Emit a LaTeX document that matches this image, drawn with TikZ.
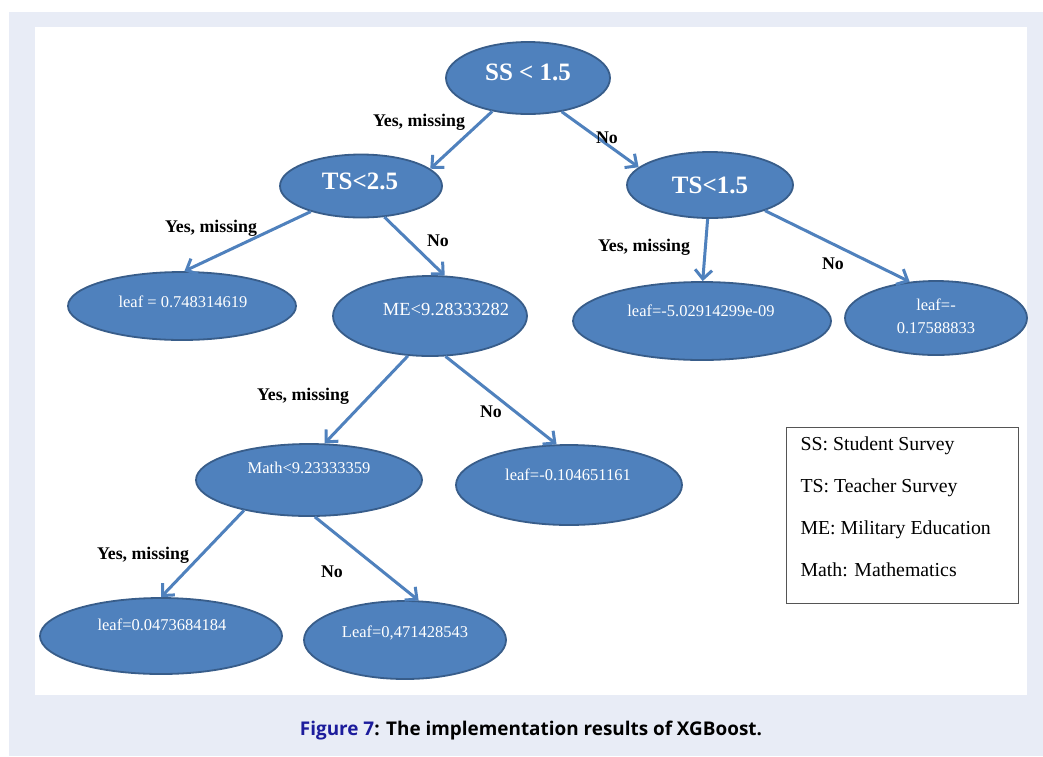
\documentclass[tikz,border=0pt]{standalone}
\usepackage{fontspec}
\setmainfont{Liberation Serif}
\newfontfamily\capfont{Open Sans}
\usetikzlibrary{shapes.geometric}
\usetikzlibrary{arrows.meta}
\definecolor{panelbg}{HTML}{E8ECF6}
\definecolor{nodefill}{HTML}{4F81BD}
\definecolor{nodeedge}{HTML}{385D8A}
\definecolor{figblue}{HTML}{1C1C9C}
\definecolor{legedge}{HTML}{555555}

\begin{document}
\begin{tikzpicture}[x=1pt, y=-1pt, >={Straight Barb[length=9pt,width=17pt]},
    splitnode/.style={ellipse, draw=nodeedge, fill=nodefill, line width=1.8pt, inner sep=0pt},
    splittxt/.style={text=white, anchor=base, font=\fontsize{25}{27}\selectfont\bfseries},
    leaftxt/.style={text=white, anchor=base, font=\fontsize{16.5}{23}\selectfont, align=center},
    branch/.style={->, draw=nodefill, line width=3pt},
    lbl/.style={font=\fontsize{17.8}{20}\selectfont\bfseries},
    legtxt/.style={anchor=base west, font=\rmfamily\fontsize{19.8}{22}\selectfont}]

    % page and panel
    \useasboundingbox (0,0) rectangle (1043,756);
    \fill[panelbg] (9,12) rectangle (1043,756);
    \fill[white] (35,27) rectangle (1027,695);

    % split nodes
    \node[splitnode, minimum width=164, minimum height=72] (ss) at (528,78) {};
    \node[splittxt] (ss-t) at (528,80) {SS < 1.5};
    \node[splitnode, minimum width=162, minimum height=63] (ts1) at (361,186) {};
    \node[splittxt] (ts1-t) at (360,189) {TS<2.5};
    \node[splitnode, minimum width=166, minimum height=66] (ts2) at (710,185) {};
    \node[splittxt] (ts2-t) at (710,193) {TS<1.5};
    \node[splitnode, minimum width=194, minimum height=80] (me) at (430,316) {};
    \node[leaftxt, font=\fontsize{18.5}{21}\selectfont] (me-t) at (446,315) {ME<9.28333282};
    \node[splitnode, minimum width=226, minimum height=72] (math) at (309,480) {};
    \node[leaftxt] (math-t) at (309,473) {Math<9.23333359};

    % leaves
    \node[splitnode, minimum width=228, minimum height=68] (leafa) at (182,306) {};
    \node[leaftxt] (leafa-t) at (183,307) {leaf = 0.748314619};
    \node[splitnode, minimum width=258, minimum height=78] (leafb) at (702,321) {};
    \node[leaftxt] (leafb-t) at (701,316) {leaf=-5.02914299e-09};
    \node[splitnode, minimum width=182, minimum height=74] (leafc) at (936,318) {};
    \node[leaftxt] (leafc-t) at (936,333) {leaf=-\\0.17588833};
    \node[splitnode, minimum width=226, minimum height=80] (leafd) at (569,485) {};
    \node[leaftxt] (leafd-t) at (568,480) {leaf=-0.104651161};
    \node[splitnode, minimum width=242, minimum height=76] (leafe) at (161,636) {};
    \node[leaftxt] (leafe-t) at (162,630) {leaf=0.0473684184};
    \node[splitnode, minimum width=202, minimum height=78] (leaff) at (405,640) {};
    \node[leaftxt] (leaff-t) at (405,637) {Leaf=0,471428543};

    % branches
    \draw[branch] (ss.223) -- (ts1.14);
    \draw[branch] (ss.315) -- (ts2.166);
    \draw[branch] (ts1.207) -- (leafa.86);
    \draw[branch] (ts1.307) -- (me.70);
    \draw[branch] (ts2.266) -- (leafb.89);
    \draw[branch] (ts2.335) -- (leafc.126);
    \draw[branch] (me.241) -- (math.67);
    \draw[branch] (me.291) -- (leafd.107);
    \draw[branch] (math.205) -- (leafe.90);
    \draw[branch] (math.279) -- (leaff.71);

    % branch labels
    \node[lbl] (l1) at (419,122) {Yes, missing};
    \node[lbl] (l2) at (607,138) {No};
    \node[lbl] (l3) at (211,228) {Yes, missing};
    \node[lbl] (l4) at (438,241) {No};
    \node[lbl] (l5) at (644,247) {Yes, missing};
    \node[lbl] (l6) at (833,264) {No};
    \node[lbl] (l7) at (303,396) {Yes, missing};
    \node[lbl] (l8) at (491,412) {No};
    \node[lbl] (l9) at (143,555) {Yes, missing};
    \node[lbl] (l10) at (332,572) {No};

    % legend
    \draw[legedge, line width=1pt] (786,427) rectangle (1018,603);
    \node[legtxt] (k1) at (797,450) {SS: Student Survey};
    \node[legtxt] (k2) at (797,492) {TS: Teacher Survey};
    \node[legtxt] (k3) at (797,534) {ME: Military Education};
    \node[legtxt] (k4) at (797,576) {Math: Mathematics};

    % caption
    \node[font=\capfont\fontsize{18.9}{21}\selectfont\bfseries] (cap) at (531,731)
        {{\color{figblue}Figure 7}: The implementation results of XGBoost.};

\end{tikzpicture}
\end{document}
